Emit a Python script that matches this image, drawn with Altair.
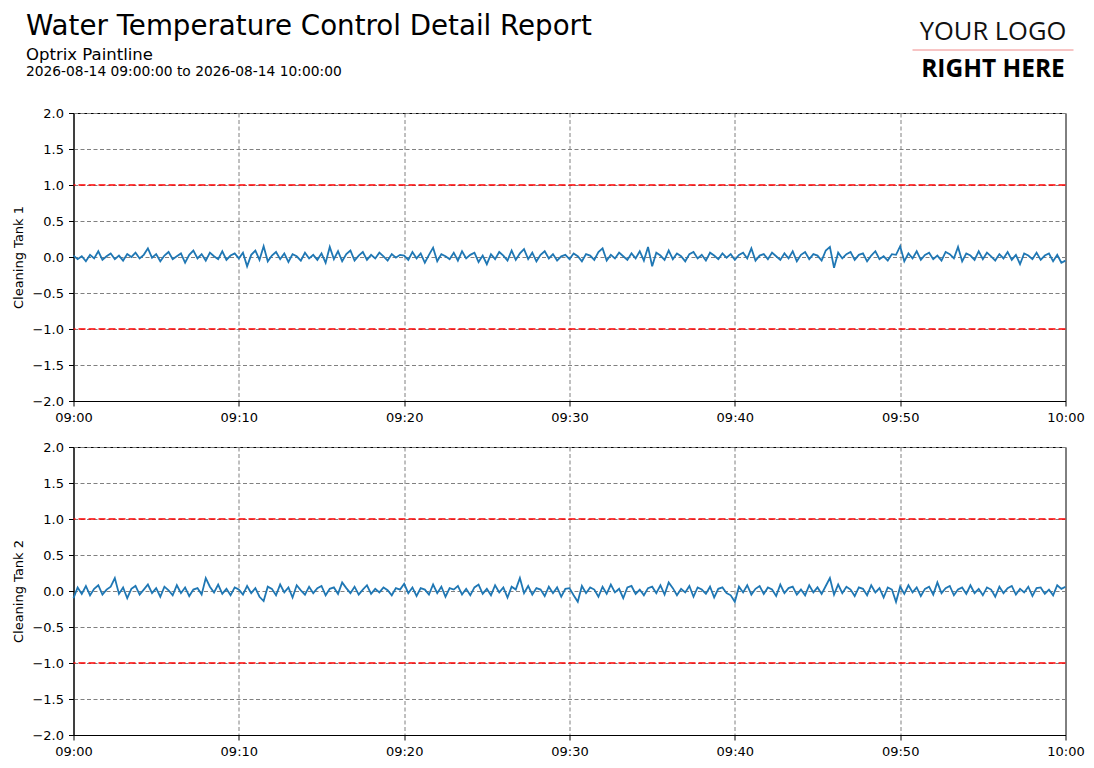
import altair as alt
import pandas as pd

# ---------------- data ----------------
title_text = ["Water Temperature Control Detail Report"]
subtitle_text = ["Optrix Paintline"]
range_text = ["2026-08-14 09:00:00 to 2026-08-14 10:00:00"]
logo_top = ["YOUR LOGO"]
logo_bottom = ["RIGHT HERE"]

panel_labels = ["Cleaning Tank 1", "Cleaning Tank 2"]
limit_values = [1.0, -1.0]
y_ticks = [-2.0, -1.5, -1.0, -0.5, 0.0, 0.5, 1.0, 1.5, 2.0]
x_tick_minutes = [0, 10, 20, 30, 40, 50, 60]

tank1 = [
    0.02, -0.03, 0.01, -0.06, 0.03, -0.02, 0.08, -0.04, 0.01, 0.05, -0.03, 0.02, -0.05, 0.04, 0.00, 0.06, -0.02, 0.03, 0.12, -0.01,
    0.04, -0.06, 0.02, 0.07, -0.03, 0.01, 0.05, -0.08, 0.03, 0.09, -0.02, 0.04, -0.05, 0.06, 0.01, -0.03, 0.08, -0.04, 0.02, 0.05,
    -0.02, 0.06, -0.13, 0.03, 0.09, -0.04, 0.15, -0.06, 0.02, 0.07, -0.03, 0.05, -0.07, 0.04, 0.01, -0.05, 0.06, -0.02, 0.03, -0.04,
    0.05, -0.08, 0.14, -0.03, 0.08, -0.06, 0.04, 0.09, -0.05, 0.02, 0.07, -0.04, 0.03, -0.02, 0.06, 0.01, -0.05, 0.04, -0.01, 0.03,
    0.02, -0.04, 0.07, -0.02, 0.05, -0.08, 0.03, 0.13, -0.06, 0.04, 0.01, -0.03, 0.06, -0.05, 0.08, -0.02, 0.03, 0.06, -0.07, 0.02,
    -0.10, 0.04, -0.03, 0.07, 0.02, -0.05, 0.09, -0.04, 0.05, 0.11, -0.03, 0.06, -0.06, 0.03, 0.08, -0.02, 0.04, -0.05, 0.01, 0.03,
    -0.03, 0.05, 0.01, -0.06, 0.04, 0.02, -0.04, 0.07, 0.12, -0.05, 0.03, -0.02, 0.06, 0.01, -0.04, 0.05, -0.02, 0.08, -0.05, 0.14,
    -0.13, 0.06, 0.02, -0.04, 0.09, -0.03, 0.05, 0.01, -0.06, 0.04, 0.07, -0.02, 0.03, -0.05, 0.06, 0.02, -0.03, 0.05, -0.01, 0.04,
    -0.04, 0.03, 0.06, -0.02, 0.12, -0.05, 0.02, 0.04, -0.03, 0.06, 0.01, -0.04, 0.05, -0.02, 0.08, -0.06, 0.03, 0.07, -0.03, 0.04,
    0.02, -0.05, 0.09, 0.14, -0.15, 0.06, -0.02, 0.04, 0.07, -0.04, 0.03, 0.05, -0.06, 0.02, 0.08, -0.03, 0.01, -0.05, 0.04, 0.03,
    0.15, -0.06, 0.05, -0.02, 0.08, -0.04, 0.03, 0.06, -0.03, 0.02, -0.05, 0.07, 0.04, -0.02, 0.14, -0.06, 0.05, 0.02, -0.04, 0.08,
    -0.03, 0.06, 0.01, -0.05, 0.04, -0.02, 0.07, -0.04, 0.03, -0.10, 0.05, 0.02, -0.03, 0.06, -0.04, 0.02, 0.05, -0.06, 0.03, -0.08,
    -0.05,
]

tank2 = [
    -0.10, 0.05, -0.04, 0.07, -0.06, 0.03, 0.08, -0.05, 0.02, 0.06, 0.18, -0.04, 0.05, -0.10, 0.03, 0.07, -0.05, 0.02, 0.09, -0.03,
    0.04, -0.08, 0.06, 0.01, -0.06, 0.08, -0.03, 0.05, -0.07, 0.02, 0.04, -0.05, 0.18, 0.06, -0.02, 0.09, -0.04, 0.03, -0.06, 0.05,
    0.02, -0.05, 0.07, -0.03, 0.04, -0.08, -0.14, 0.06, 0.03, -0.06, 0.09, -0.02, 0.05, -0.09, 0.08, 0.01, -0.05, 0.06, -0.03, 0.04,
    0.07, -0.06, 0.03, 0.05, -0.04, 0.12, 0.04, -0.03, 0.06, -0.05, 0.02, 0.08, -0.04, 0.03, -0.02, 0.05, 0.01, -0.06, 0.04, 0.02,
    0.10, -0.03, 0.05, -0.07, 0.04, 0.02, -0.05, 0.09, -0.03, 0.06, -0.08, 0.04, 0.02, 0.07, -0.05, 0.03, -0.06, 0.05, 0.09, -0.04,
    0.03, -0.06, 0.08, -0.02, 0.05, -0.09, 0.06, 0.02, 0.18, -0.03, 0.07, -0.05, 0.04, 0.02, -0.07, 0.06, -0.03, 0.05, -0.08, 0.03,
    0.04, -0.06, -0.15, 0.07, -0.03, 0.05, 0.02, -0.08, 0.06, -0.04, 0.09, -0.02, 0.03, -0.10, 0.05, 0.07, -0.04, 0.02, -0.06, 0.04,
    0.06, -0.03, 0.08, -0.05, 0.12, 0.04, -0.06, 0.03, -0.02, 0.07, -0.08, 0.05, 0.02, -0.04, 0.06, -0.09, 0.03, 0.05, -0.03, -0.06,
    -0.15, 0.06, -0.02, 0.08, -0.05, 0.03, 0.07, -0.04, 0.05, 0.02, -0.07, 0.09, -0.03, 0.04, 0.06, -0.05, 0.02, -0.06, 0.08, -0.02,
    0.05, -0.04, 0.07, 0.18, -0.05, 0.09, -0.03, 0.06, 0.02, -0.07, 0.05, 0.03, -0.06, 0.08, -0.02, 0.04, -0.09, 0.05, 0.02, -0.15,
    0.06, -0.04, 0.08, -0.02, 0.05, -0.07, 0.03, 0.06, -0.05, 0.12, -0.03, 0.04, 0.07, -0.06, 0.02, 0.05, -0.04, 0.08, -0.03, 0.03,
    -0.06, 0.05, 0.02, -0.08, 0.06, -0.03, 0.04, 0.07, -0.05, 0.03, -0.02, 0.06, -0.07, 0.04, 0.05, -0.04, 0.02, -0.06, 0.08, 0.03,
    0.06,
]

times = pd.date_range("2026-08-14 09:00:00", periods=len(tank1), freq="15s")

FONT = "DejaVu Sans"
W, H = 992, 288


def dt(minute):
    if minute == 60:
        return alt.DateTime(year=2026, month=8, date=14, hours=10, minutes=0)
    return alt.DateTime(year=2026, month=8, date=14, hours=9, minutes=minute)


x_scale = alt.Scale(domain=[dt(0), dt(60)])
y_scale = alt.Scale(domain=[-2, 2], nice=False)


def y_axis(label):
    return alt.Axis(values=y_ticks, format=".1f", title=label, labelOverlap=False)


def panel(vals, label, header=False):
    df = pd.DataFrame({"time": times, "value": vals})
    line = alt.Chart(df).mark_line(color="#1f77b4", strokeWidth=1.8).encode(
        x=alt.X("time:T", scale=x_scale,
                axis=alt.Axis(values=[dt(m) for m in x_tick_minutes], format="%H:%M",
                              title=None, labelFlush=False, labelOverlap=False)),
        y=alt.Y("value:Q", scale=y_scale, axis=y_axis(label)),
    )
    limits = alt.Chart(pd.DataFrame({"limit": limit_values})).mark_rule(
        color="red", strokeDash=[7, 3], strokeWidth=1.6
    ).encode(y=alt.Y("limit:Q", scale=y_scale, axis=y_axis(label)))
    layers = [line, limits]
    if header:
        t1 = alt.Chart(pd.DataFrame({"t": title_text})).mark_text(
            font=FONT, fontSize=27.7, align="left", baseline="alphabetic", color="black"
        ).encode(text="t:N", x=alt.value(-47.5), y=alt.value(-78))
        t2 = alt.Chart(pd.DataFrame({"t": subtitle_text})).mark_text(
            font=FONT, fontSize=16.5, align="left", baseline="alphabetic", color="black"
        ).encode(text="t:N", x=alt.value(-47.5), y=alt.value(-53))
        t3 = alt.Chart(pd.DataFrame({"t": range_text})).mark_text(
            font=FONT, fontSize=13.8, align="left", baseline="alphabetic", color="black"
        ).encode(text="t:N", x=alt.value(-47.5), y=alt.value(-37))
        l1 = alt.Chart(pd.DataFrame({"t": logo_top})).mark_text(
            font="Open Sans", fontSize=25.5, align="center", baseline="alphabetic", color="#111111"
        ).encode(text="t:N", x=alt.value(919.5), y=alt.value(-73))
        l2 = alt.Chart(pd.DataFrame({"t": logo_bottom})).mark_text(
            font="Open Sans", fontSize=24.5, fontWeight="bold", align="center", baseline="alphabetic", color="black"
        ).encode(text="t:N", x=alt.value(919.5), y=alt.value(-36))
        sep = alt.Chart(pd.DataFrame({"t": logo_top})).mark_rule(
            color="#f08a8a", strokeWidth=1
        ).encode(x=alt.value(839), x2=alt.value(1000), y=alt.value(-63))
        layers += [t1, t2, t3, l1, l2, sep]
    return alt.layer(*layers).properties(width=W, height=H)


chart = alt.vconcat(
    panel(tank1, panel_labels[0], header=True),
    panel(tank2, panel_labels[1]),
    spacing=15,
).properties(
    padding={"left": 3.5, "top": 4, "right": 0, "bottom": 0},
    background="white",
).configure_view(
    stroke="black", strokeWidth=1
).configure_axis(
    labelFont=FONT, titleFont=FONT, labelFontSize=13, titleFontSize=13,
    titleFontWeight="normal", labelColor="black", titleColor="black",
    domainColor="black", tickColor="black", tickSize=5, labelPadding=5,
    titlePadding=6, gridColor="#808080", gridDash=[4, 2.5], gridWidth=1,
    gridOpacity=1, domainWidth=1, tickWidth=1,
)

chart.save("out.html", embed_options={"renderer": "svg", "actions": False})
